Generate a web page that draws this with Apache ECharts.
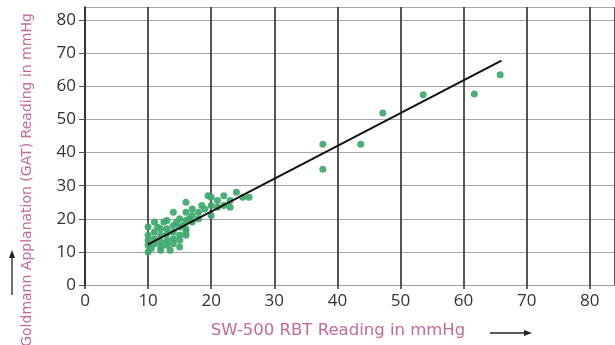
<!DOCTYPE html>
<html>
<head>
<meta charset="utf-8">
<script src="https://cdn.jsdelivr.net/npm/echarts@6/dist/echarts.min.js"></script>
<style>
html,body{margin:0;padding:0;background:#fff;}
#chart{width:615px;height:345px;}
</style>
</head>
<body>
<div id="chart"></div>
<script>
// SW-500 RBT readings (x) and GAT readings (y), mmHg
const rbtValues = [
  10,10,10,10,10,10.5,
  11,11,11,11,11.5,
  12,12,12,12,12,12.5,
  13,13,13,13,13,13.5,
  14,14,14,14,14,14.5,
  15,15,15,15,15,15.5,
  16,16,16,16,16,16,16.5,
  17,17,17,
  18,18,18.5,
  19,19.5,
  20,20,20,
  21,21,
  22,22,
  23,23,
  24,25,26,
  37.7,37.7,43.7,47.2,53.6,61.7,65.8
];
const gatValues = [
  17.5,15,13.5,12,10,11,
  19,16,14,12.5,17.5,
  17,15,13,11.5,10.5,19,
  19.5,17,15.5,13.5,12,10.5,
  22,18,16,14,12.5,19,
  20,17.5,15,13.5,11.5,18,
  25,22,19.5,17,15,16,20,
  21,19,23,
  22,20,24,
  23,27,
  26.5,24,21,
  25.5,23.5,
  27,24,
  25.5,23.5,
  28,26.5,26.5,
  42.5,35,42.5,52,57.5,57.7,63.5
];
// regression line end points
const fitLineX = [10, 66];
const fitLineY = [12.3, 67.8];
// tick labels
const xTickLabels = ['0','10','20','30','40','50','60','70','80'];
const yTickLabels = ['0','10','20','30','40','50','60','70','80'];
const xAxisTitle = 'SW-500 RBT Reading in mmHg';
const yAxisTitle = 'Goldmann Applanation (GAT) Reading in mmHg';

const points = rbtValues.map((x, i) => [x, gatValues[i]]);
const fitLine = fitLineX.map((x, i) => [x, fitLineY[i]]);

const labelFmt = (list) => (v) => {
  const s = String(Math.round(v * 100) / 100);
  return list.indexOf(s) >= 0 ? s : '';
};

const chart = echarts.init(document.getElementById('chart'), null, {renderer: 'canvas'});
chart.setOption({
  animation: false,
  backgroundColor: '#ffffff',
  grid: {left: 85, right: 0, top: 7, bottom: 60, containLabel: false},
  xAxis: {
    type: 'value', min: 0, max: 84, interval: 10,
    axisLine: {show: true, lineStyle: {color: '#9aa0a6', width: 1.2}},
    axisTick: {show: true, length: 4, lineStyle: {color: '#333', width: 1.5}},
    axisLabel: {
      formatter: labelFmt(xTickLabels), color: '#333', fontSize: 17,
      fontFamily: 'Open Sans', margin: 8, showMaxLabel: false
    },
    splitLine: {show: true, lineStyle: {color: '#2b2b2b', width: 1.6}}
  },
  yAxis: {
    type: 'value', min: 0, max: 84, interval: 10,
    axisLine: {show: true, lineStyle: {color: '#2b2b2b', width: 1.6}},
    axisTick: {show: true, length: 6, lineStyle: {color: '#555', width: 1}},
    axisLabel: {
      formatter: labelFmt(yTickLabels), color: '#333', fontSize: 17,
      fontFamily: 'Open Sans', margin: 9, showMaxLabel: false
    },
    splitLine: {show: true, lineStyle: {color: '#a4a9b0', width: 1.2}}
  },
  graphic: [
    {
      type: 'text', x: 27, y: 180, rotation: Math.PI / 2,
      style: {
        text: yAxisTitle, fill: '#c26a9e', font: '14px "DejaVu Sans"',
        textAlign: 'center', textVerticalAlign: 'middle'
      }
    },
    {
      type: 'text', x: 338, y: 331,
      style: {
        text: xAxisTitle, fill: '#c26a9e', font: '16.5px "DejaVu Sans"',
        textAlign: 'center', textVerticalAlign: 'middle'
      }
    },
    {type: 'line', shape: {x1: 12, y1: 295, x2: 12, y2: 256}, style: {stroke: '#222', lineWidth: 1.3}},
    {type: 'polygon', shape: {points: [[12, 250], [9, 258], [15, 258]]}, style: {fill: '#222'}},
    {type: 'line', shape: {x1: 490, y1: 333, x2: 526, y2: 333}, style: {stroke: '#222', lineWidth: 1.3}},
    {type: 'polygon', shape: {points: [[532, 333], [524, 330], [524, 336]]}, style: {fill: '#222'}}
  ],
  series: [
    {
      type: 'scatter', data: points, symbolSize: 7,
      itemStyle: {color: '#3ea86c', opacity: 0.92}
    },
    {
      type: 'line', data: fitLine, symbol: 'none',
      lineStyle: {color: '#111', width: 2}
    }
  ]
});
</script>
</body>
</html>
